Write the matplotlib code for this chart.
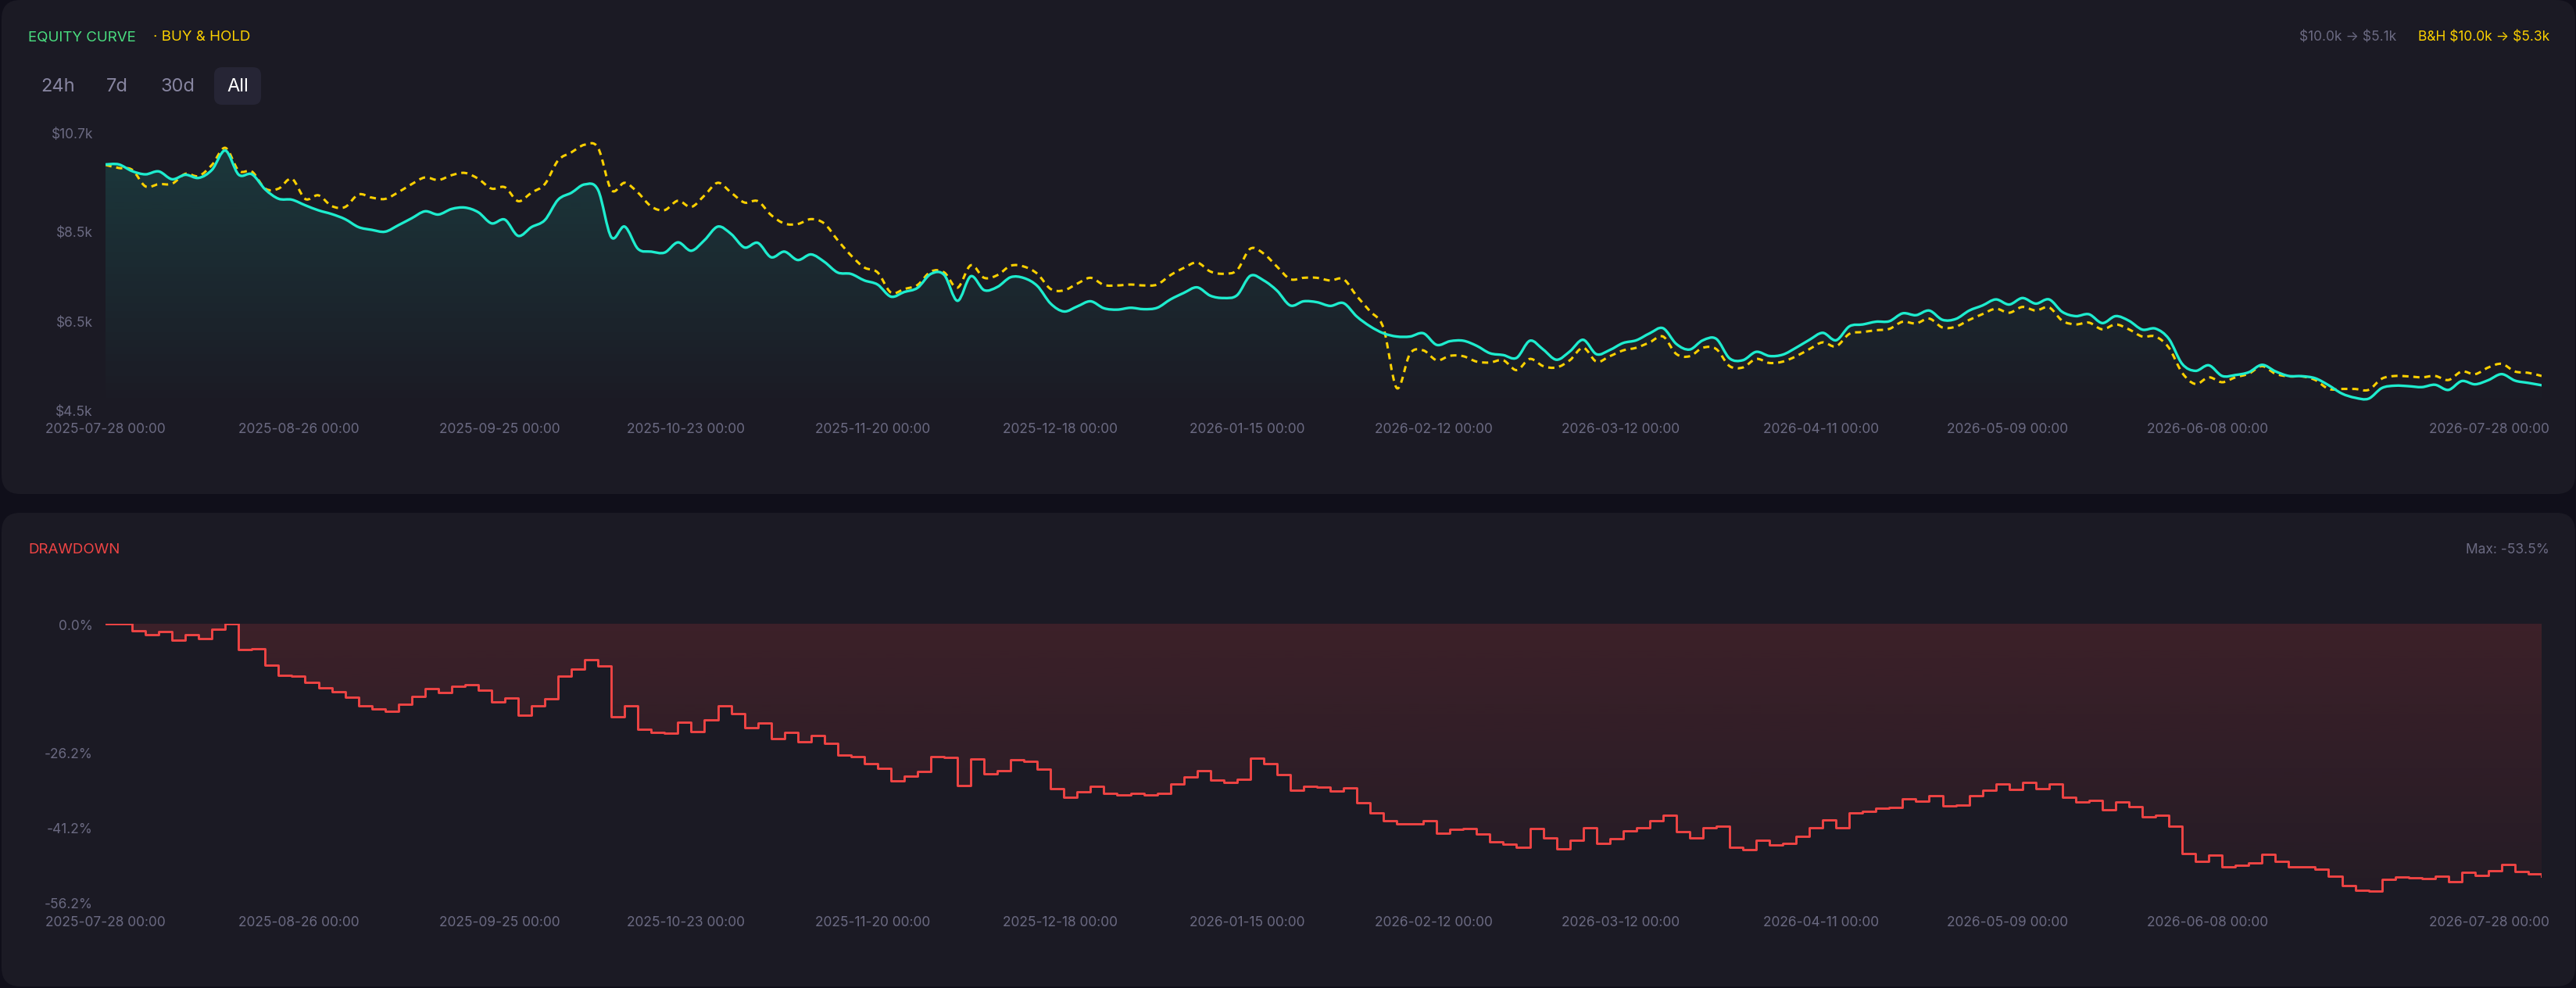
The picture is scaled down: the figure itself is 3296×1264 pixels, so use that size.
import numpy as np
import pandas as pd
import matplotlib
matplotlib.use("Agg")
import matplotlib.pyplot as plt
import matplotlib.dates as mdates
from matplotlib.path import Path
from matplotlib.patches import PathPatch, FancyBboxPatch
from matplotlib.colors import to_rgb

plt.rcParams["font.family"] = ["Inter", "DejaVu Sans"]

W, H = 3296, 1264

# ---- data ----
dates = pd.date_range("2025-07-28", "2026-07-28", periods=184)

equity = [
    10040, 10040, 9890, 9819, 9884, 9709, 9809, 9739, 9920, 10350,
    9812, 9820, 9481, 9274, 9253, 9129, 9015, 8932, 8818, 8642,
    8580, 8539, 8684, 8839, 8994, 8922, 9046, 9077, 8973, 8725,
    8808, 8446, 8642, 8797, 9253, 9408, 9594, 9470, 8415, 8653,
    8156, 8094, 8073, 8301, 8114, 8352, 8653, 8487, 8187, 8290,
    7969, 8094, 7907, 8032, 7866, 7628, 7597, 7452, 7359, 7090,
    7193, 7286, 7597, 7576, 6997, 7545, 7235, 7307, 7524, 7504,
    7328, 6934, 6759, 6872, 6986, 6831, 6800, 6841, 6810, 6841,
    7028, 7173, 7297, 7110, 7059, 7121, 7555, 7452, 7224, 6893,
    6986, 6966, 6883, 6945, 6645, 6427, 6272, 6200, 6200, 6272,
    6013, 6096, 6106, 5993, 5827, 5786, 5724, 6106, 5910, 5682,
    5868, 6127, 5806, 5899, 6055, 6117, 6272, 6386, 6034, 5910,
    6117, 6148, 5713, 5672, 5858, 5765, 5796, 5951, 6127, 6282,
    6117, 6427, 6469, 6531, 6541, 6717, 6676, 6779, 6572, 6593,
    6779, 6893, 7028, 6914, 7059, 6934, 7028, 6748, 6655, 6696,
    6500, 6655, 6552, 6355, 6376, 6148, 5589, 5434, 5558, 5320,
    5341, 5403, 5568, 5423, 5320, 5315, 5268, 5113, 4927, 4833,
    4813, 5051, 5103, 5092, 5071, 5123, 5009, 5206, 5134, 5227,
    5361, 5216, 5165, 5113,
]

buy_hold = [
    10030, 9960, 9920, 9550, 9600, 9610, 9830, 9780, 10030, 10410,
    9900, 9880, 9500, 9500, 9720, 9270, 9350, 9110, 9090, 9370,
    9300, 9270, 9420, 9600, 9750, 9690, 9800, 9850, 9720, 9500,
    9530, 9220, 9410, 9600, 10130, 10310, 10480, 10410, 9470, 9630,
    9410, 9100, 9020, 9230, 9090, 9350, 9630, 9410, 9190, 9220,
    8910, 8720, 8710, 8820, 8720, 8350, 8010, 7740, 7630, 7180,
    7260, 7350, 7650, 7630, 7290, 7790, 7510, 7570, 7780, 7760,
    7600, 7260, 7230, 7380, 7510, 7350, 7340, 7360, 7340, 7360,
    7570, 7730, 7850, 7650, 7600, 7680, 8160, 8050, 7760, 7480,
    7510, 7510, 7450, 7480, 7100, 6760, 6390, 5050, 5820, 5890,
    5670, 5770, 5760, 5640, 5620, 5670, 5450, 5700, 5540, 5510,
    5670, 5950, 5640, 5760, 5890, 5950, 6070, 6200, 5810, 5760,
    5950, 5920, 5540, 5510, 5700, 5610, 5640, 5760, 5920, 6070,
    5980, 6260, 6300, 6340, 6370, 6530, 6490, 6600, 6400, 6420,
    6570, 6700, 6820, 6730, 6860, 6780, 6850, 6550, 6470, 6510,
    6360, 6470, 6360, 6200, 6200, 5950, 5390, 5140, 5290, 5180,
    5290, 5370, 5540, 5370, 5310, 5310, 5230, 5030, 5030, 5030,
    5010, 5260, 5320, 5310, 5290, 5320, 5230, 5420, 5360, 5510,
    5590, 5420, 5390, 5320,
]

tick_dates = ["2025-07-28", "2025-08-26", "2025-09-25", "2025-10-23", "2025-11-20",
              "2025-12-18", "2026-01-15", "2026-02-12", "2026-03-12", "2026-04-11",
              "2026-05-09", "2026-06-08", "2026-07-28"]
eq_ticks = [10700, 8500, 6500, 4500]
eq_tick_labels = [r"\$10.7k", r"\$8.5k", r"\$6.5k", r"\$4.5k"]
dd_ticks = [0.0, -26.2, -41.2, -56.2]
dd_tick_labels = ["0.0%", "-26.2%", "-41.2%", "-56.2%"]

# ---- colours ----
PAGE = "#100f1a"
PANEL = "#1b1a24"
CYAN = "#1eecce"
GOLD = "#fbd000"
RED = "#ef4444"
GREEN = "#4ade80"
MUTED = "#6b6a82"
BTN = "#8785a0"

x = mdates.date2num(dates)
eq = np.array(equity, dtype=float)
bh = np.array(buy_hold, dtype=float)
dd = (eq / np.maximum.accumulate(eq) - 1) * 100


def curve_path(xs, ys):
    pts = np.column_stack([xs, ys])
    n = len(pts)
    verts = [pts[0]]
    codes = [Path.MOVETO]
    for i in range(n - 1):
        p0 = pts[max(i - 1, 0)]
        p1 = pts[i]
        p2 = pts[i + 1]
        p3 = pts[min(i + 2, n - 1)]
        verts += [p1 + (p2 - p0) / 6, p2 - (p3 - p1) / 6, p2]
        codes += [Path.CURVE4] * 3
    return verts, codes


def gradient(ax, color, a_top, a_bot, x0, x1, y_top, y_bot):
    rgba = np.zeros((256, 1, 4))
    rgba[:, :, :3] = to_rgb(color)
    rgba[:, 0, 3] = np.linspace(a_top, a_bot, 256)
    return ax.imshow(rgba, extent=(x0, x1, y_bot, y_top), origin="upper",
                     aspect="auto", interpolation="bilinear", zorder=1)


def px_axes(fig, x0, y0, x1, y1):
    a = fig.add_axes([x0 / W, 1 - y1 / H, (x1 - x0) / W, (y1 - y0) / H])
    a.set_facecolor("none")
    a.set_zorder(2)
    for s in a.spines.values():
        s.set_visible(False)
    a.set_xticks([])
    a.set_yticks([])
    return a


def date_labels(ax, dy):
    for i, d in enumerate(tick_dates):
        last = i == len(tick_dates) - 1
        ax.annotate(d + " 00:00", xy=(mdates.date2num(pd.Timestamp(d)), 0),
                    xycoords=("data", "axes fraction"),
                    xytext=(10 if last else 0, -dy), textcoords="offset pixels",
                    ha="right" if last else "center", va="center",
                    fontsize=12.5, color=MUTED)


def value_labels(ax, ticks, labels, shift=None):
    for t, lab in zip(ticks, labels):
        off = shift.get(lab, 0) if shift else 0
        ax.annotate(lab, xy=(0, t), xycoords=("axes fraction", "data"),
                    xytext=(-16, -off), textcoords="offset pixels",
                    ha="right", va="center", fontsize=12.5, color=MUTED)


fig = plt.figure(figsize=(W / 100, H / 100), dpi=100)
fig.patch.set_facecolor(PAGE)

# background canvas in pixel units
bg = fig.add_axes([0, 0, 1, 1])
bg.set_xlim(0, W)
bg.set_ylim(H, 0)
bg.axis("off")
bg.set_zorder(0)
for (top, bot) in [(0, 632), (656, 1262)]:
    bg.add_patch(FancyBboxPatch((2, top), 3293, bot - top,
                                boxstyle="round,pad=0,rounding_size=24",
                                facecolor=PANEL, edgecolor="none"))

# header texts
bg.text(36, 48, "EQUITY CURVE", color=GREEN, fontsize=13.5, va="center", ha="left")
bg.text(196, 48, "· BUY & HOLD", color=GOLD, fontsize=13.5, va="center", ha="left")
bg.text(3066, 48, r"\$10.0k → \$5.1k", color=MUTED, fontsize=12.5, va="center", ha="right")
bg.text(3262, 48, r"B&H \$10.0k → \$5.3k", color=GOLD, fontsize=12.5, va="center", ha="right")

bg.add_patch(FancyBboxPatch((274, 86), 60, 48, boxstyle="round,pad=0,rounding_size=10",
                            facecolor="#262535", edgecolor="none"))
for label, cx, col in [("24h", 74, BTN), ("7d", 150, BTN), ("30d", 227, BTN), ("All", 304, "#ffffff")]:
    bg.text(cx, 111, label, color=col, fontsize=17, ha="center", va="center")

bg.text(36, 704, "DRAWDOWN", color=RED, fontsize=13.5, va="center", ha="left")
bg.text(3262, 704, "Max: -53.5%", color=MUTED, fontsize=12.5, va="center", ha="right")

# ---- equity panel ----
ax1 = px_axes(fig, 135, 172.5, 3252, 528)
ylo, yhi = 4500, 10700

v, c = curve_path(x, eq)
area = Path(v + [(x[-1], ylo), (x[0], ylo), (x[0], eq[0])],
            c + [Path.LINETO, Path.LINETO, Path.CLOSEPOLY])
im = gradient(ax1, CYAN, 0.15, 0.0, x[0], x[-1], yhi, ylo)
im.set_clip_path(PathPatch(area, transform=ax1.transData))
ax1.add_patch(PathPatch(Path(v, c), fill=False, edgecolor=CYAN, lw=2.4,
                        zorder=4, capstyle="round", joinstyle="round"))

vb, cb = curve_path(x, bh)
ax1.add_patch(PathPatch(Path(vb, cb), fill=False, edgecolor=GOLD, lw=2.2,
                        linestyle=(0, (2.6, 2.0)), zorder=3))
ax1.set_xlim(x[0], x[-1])
ax1.set_ylim(ylo, yhi)
value_labels(ax1, eq_ticks, eq_tick_labels)
date_labels(ax1, 22)

# ---- drawdown panel ----
ax2 = px_axes(fig, 135, 797.6, 3252, 1157.3)
poly = ax2.fill_between(x, dd, 0, step="post", facecolor="none", edgecolor="none", lw=0)
im2 = gradient(ax2, RED, 0.16, 0.04, x[0], x[-1], 0, -56.2)
im2.set_clip_path(poly.get_paths()[0], ax2.transData)
ax2.step(x, dd, where="post", color=RED, lw=2.1, zorder=4)
ax2.set_xlim(x[0], x[-1])
ax2.set_ylim(-56.2, 0)
value_labels(ax2, dd_ticks, dd_tick_labels, shift={"0.0%": 4})
date_labels(ax2, 23)

fig.savefig("out.png", dpi=100, facecolor=PAGE)
